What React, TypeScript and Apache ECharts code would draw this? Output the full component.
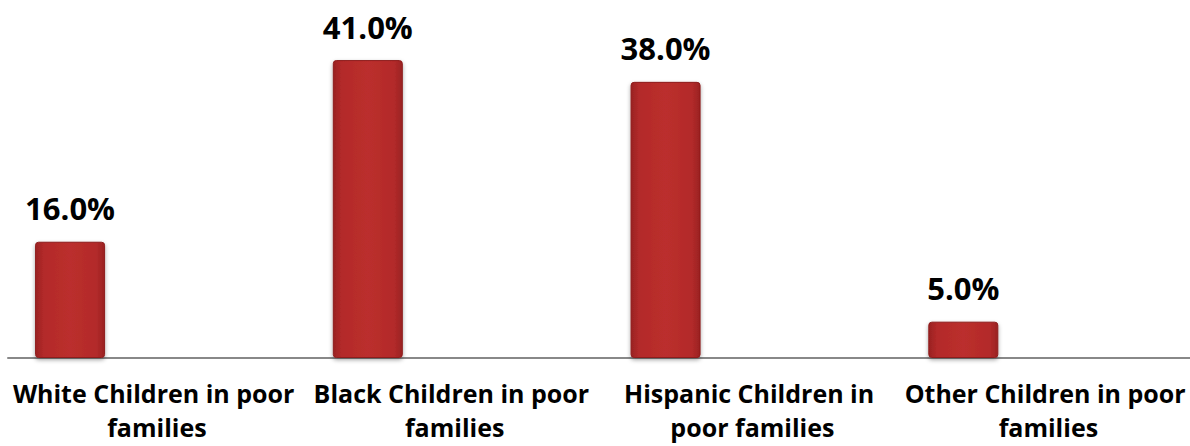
import React, { useEffect, useRef } from "react";
import * as echarts from "echarts";

const categories = [
  "White Children in poor families",
  "Black Children in poor families",
  "Hispanic Children in poor families",
  "Other Children in poor families",
];
const values = [16.0, 41.0, 38.0, 5.0];
const emptySeries = ["-", "-", "-", "-"];

export default function App() {
  const ref = useRef<HTMLDivElement>(null);
  useEffect(() => {
    const chart = echarts.init(ref.current!, null, { renderer: "svg" });
    const axisData = categories.map((c, i) =>
      i === categories.length - 1
        ? { value: c, textStyle: { width: 284, padding: [0, 10, 0, 0] } }
        : c
    );
    chart.setOption({
      animation: false,
      grid: {
        left: 8,
        width: 1191,
        top: 31,
        bottom: 88,
        containLabel: false,
        outerBoundsMode: "none",
      },
      xAxis: {
        type: "category",
        data: axisData,
        axisLine: { lineStyle: { color: "#888888", width: 2 } },
        axisTick: { show: false },
        axisLabel: {
          interval: 0,
          color: "#000000",
          fontFamily: "Open Sans",
          fontWeight: "bold",
          fontSize: 25,
          lineHeight: 34,
          width: 300,
          overflow: "break",
          margin: 18,
        },
      },
      yAxis: {
        type: "value",
        min: 0,
        max: 45,
        show: false,
        splitLine: { show: false },
      },
      series: [
        {
          type: "bar",
          data: values,
          barWidth: 70,
          barGap: "148%",
          itemStyle: {
            borderRadius: 3,
            borderColor: "#8e1c1c",
            borderWidth: 1,
            shadowColor: "rgba(0,0,0,0.35)",
            shadowBlur: 4,
            shadowOffsetY: 2,
            color: new echarts.graphic.LinearGradient(0, 0, 1, 0, [
              { offset: 0, color: "#9a2222" },
              { offset: 0.12, color: "#b32a2a" },
              { offset: 0.5, color: "#bb2f2d" },
              { offset: 0.88, color: "#b32a2a" },
              { offset: 1, color: "#9a2222" },
            ]),
          },
          label: {
            show: true,
            position: "top",
            distance: 18,
            formatter: (p: any) => p.value.toFixed(1) + "%",
            color: "#000000",
            fontFamily: "Open Sans",
            fontWeight: "bold",
            fontSize: 31,
          },
        },
        {
          type: "bar",
          data: emptySeries,
          barWidth: 70,
        },
      ],
    });
    return () => chart.dispose();
  }, []);
  return <div ref={ref} style={{ width: 1190, height: 446, position: "absolute", left: 0, top: 0 }} />;
}
